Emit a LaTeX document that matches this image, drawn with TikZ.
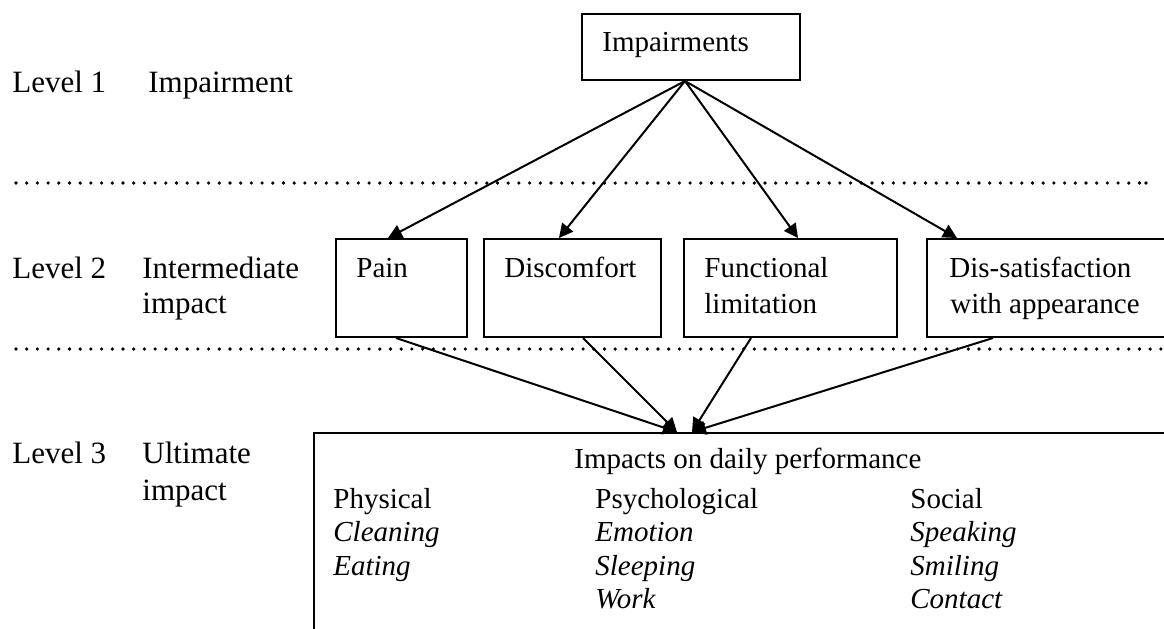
\documentclass[tikz,border=0pt]{standalone}
\usepackage{fontspec}
\setmainfont{Liberation Serif}
\usetikzlibrary{arrows.meta}
\tikzset{
  box/.style={draw, line width=1pt, anchor=north west, inner sep=0pt},
  lbl/.style={anchor=base west, inner sep=0pt, font=\fontsize{15.5}{18}\selectfont},
  btxt/.style={anchor=base west, inner sep=0pt, font=\fontsize{14.5}{17}\selectfont},
  conn/.style={line width=1pt, -{Triangle[length=7pt,width=7pt]}},
  dots/.style={line width=1.8pt, line cap=round, dash pattern=on 0pt off 5.35pt}
}
\begin{document}
\begin{tikzpicture}[x=0.5pt,y=-0.5pt]
\useasboundingbox (0,0) rectangle (1164,628);
\clip (0,0) rectangle (1164,628);
% dotted separators
\draw[dots] (16,183) -- (1141,183);
\fill (1146,183) circle (0.9pt);
\draw[dots] (16,349) -- (1170,349);
% left labels
\node[lbl] (l1) at (12,92) {Level 1};
\node[lbl] (l1b) at (148,92) {Impairment};
\node[lbl] (l2) at (12,278) {Level 2};
\node[lbl] (l2b) at (142,278) {Intermediate};
\node[lbl] (l2c) at (142,313) {impact};
\node[lbl] (l3) at (12,463) {Level 3};
\node[lbl] (l3b) at (142,463) {Ultimate};
\node[lbl] (l3c) at (142,500) {impact};
% boxes
\node[box, minimum width=109pt, minimum height=33pt] (imp) at (581,13) {};
\node[btxt] (impt) at (602,51) {Impairments};
\node[box, minimum width=65.5pt, minimum height=49pt] (pain) at (335,238) {};
\node[box, minimum width=88.5pt, minimum height=49pt] (disc) at (483,238) {};
\node[box, minimum width=106.5pt, minimum height=49pt] (func) at (683,238) {};
\node[box, minimum width=130pt, minimum height=49pt] (diss) at (926,238) {};
\node[btxt] (paint) at (356,277) {Pain};
\node[btxt] (disct) at (504,277) {Discomfort};
\node[btxt] (funct) at (704,277) {Functional};
\node[btxt] (funct2) at (704,313) {limitation};
\node[btxt] (disst) at (949,277) {Dis-satisfaction};
\node[btxt] (disst2) at (950,313) {with appearance};
\node[box, minimum width=440pt, minimum height=120pt] (daily) at (313,432) {};
\node[btxt] (dailyt) at (574,468) {Impacts on daily performance};
\node[btxt] (c1a) at (333,508) {Physical};
\node[btxt] (c1b) at (333,541) {\itshape Cleaning};
\node[btxt] (c1c) at (333,575) {\itshape Eating};
\node[btxt] (c2a) at (595,508) {Psychological};
\node[btxt] (c2b) at (595,541) {\itshape Emotion};
\node[btxt] (c2c) at (595,575) {\itshape Sleeping};
\node[btxt] (c2d) at (595,608) {\itshape Work};
\node[btxt] (c3a) at (910,508) {Social};
\node[btxt] (c3b) at (910,541) {\itshape Speaking};
\node[btxt] (c3c) at (910,575) {\itshape Smiling};
\node[btxt] (c3d) at (910,608) {\itshape Contact};
% connectors
\draw[conn] ([xshift=-3pt]imp.south) -- ([xshift=-6.75pt]pain.north);
\draw[conn] ([xshift=-3pt]imp.south) -- ([xshift=-6.75pt]disc.north);
\draw[conn] ([xshift=-3pt]imp.south) -- ([xshift=3.75pt]func.north);
\draw[conn] ([xshift=-3pt]imp.south) -- ([xshift=15.5pt]diss.north west);
\draw[conn] ([xshift=-2.75pt]pain.south) -- ([xshift=182pt]daily.north west);
\draw[conn] ([xshift=5.25pt]disc.south) -- ([xshift=182pt]daily.north west);
\draw[conn] ([xshift=-19.75pt]func.south) -- ([xshift=189.5pt]daily.north west);
\draw[conn] ([xshift=33.5pt]diss.south west) -- ([xshift=189.5pt]daily.north west);
\end{tikzpicture}
\end{document}
